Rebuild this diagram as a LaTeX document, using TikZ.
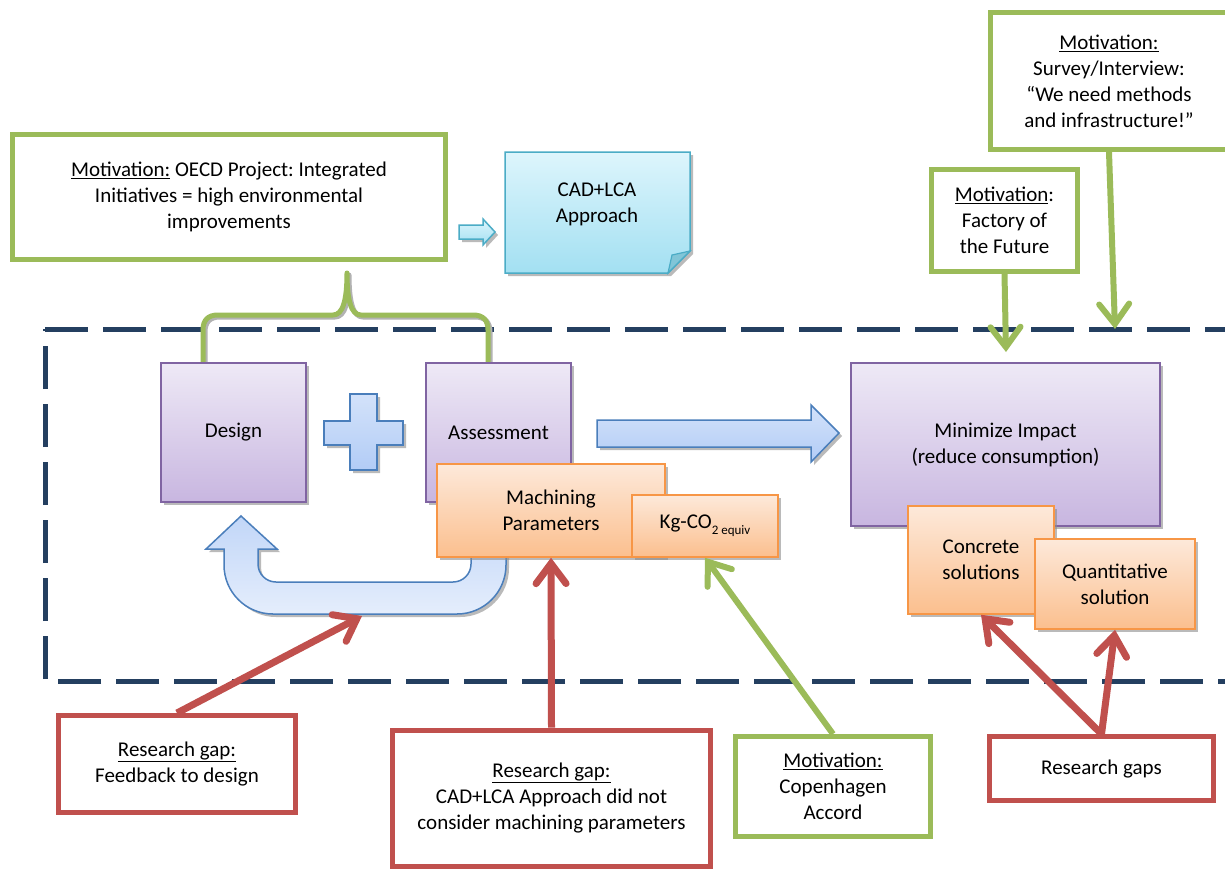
\documentclass[tikz,border=0pt]{standalone}
\usepackage{fontspec}
\setmainfont{Carlito}
\usetikzlibrary{arrows.meta,shadows}
\definecolor{grn}{HTML}{9BBB59}
\definecolor{rd}{HTML}{C0504D}
\definecolor{navy}{HTML}{243F60}
\definecolor{purp}{HTML}{8064A2}
\definecolor{purpT}{HTML}{EEE9F6}
\definecolor{purpB}{HTML}{C8B6E0}
\definecolor{orgB}{HTML}{F79646}
\definecolor{orgT}{HTML}{FDE9DA}
\definecolor{orgBot}{HTML}{FBBF8E}
\definecolor{blu}{HTML}{4A7EBB}
\definecolor{bluT}{HTML}{D3E2FA}
\definecolor{bluB}{HTML}{B2CCF6}
\definecolor{cyn}{HTML}{4BACC6}
\definecolor{cynT}{HTML}{DDF5FC}
\definecolor{cynB}{HTML}{A3E0F2}
\frenchspacing
\begin{document}
\begin{tikzpicture}[x=1pt,y=-1pt,
  font=\fontsize{21}{26}\selectfont,
  shad/.style={drop shadow={shadow xshift=3pt,shadow yshift=-3pt,fill=black!45,opacity=0.6}},
  purplebox/.style={draw=purp,line width=1.5pt,top color=purpT,bottom color=purpB,shad,inner sep=0pt,align=center},
  orangebox/.style={draw=orgB,line width=1.5pt,top color=orgT,bottom color=orgBot,shad,inner sep=0pt,align=center},
  greenbox/.style={draw=grn,line width=5pt,fill=white,inner sep=0pt,align=center},
  redbox/.style={draw=rd,line width=5pt,fill=white,inner sep=0pt,align=center},
  bluearrow/.style={draw=blu,line width=1.5pt,top color=bluT,bottom color=bluB,shad},
  openarrow/.style={line width=#1,-{Straight Barb[length=20pt,width=30pt,line cap=round]},line cap=butt},
  redarrow/.style={draw=rd,openarrow=7pt},
  greenarrow/.style={draw=grn,openarrow=6pt}
]
\useasboundingbox (0,0) rectangle (1225,868);
\fill[white] (0,0) rectangle (1225,868);
\clip (0,0) rectangle (1225,868);

% dashed frame
\draw[navy,line width=5pt,dash pattern=on 43pt off 15pt] (45,329) -- (1260,329) -- (1260,681) -- (45,681) -- cycle;

% brace (with soft shadow)
\draw[black!30,line width=5pt,line join=round,shift={(2,2)}]
  (203,362) -- (203,330) .. controls (203,320) and (208,315) .. (218,315) -- (333,315)
  .. controls (343,315) and (347,300) .. (347,273)
  .. controls (347,300) and (351,315) .. (361,315) -- (473,315)
  .. controls (483,315) and (488,320) .. (488,330) -- (488,362);
\draw[grn,line width=5pt,line join=round]
  (203,362) -- (203,330) .. controls (203,320) and (208,315) .. (218,315) -- (333,315)
  .. controls (343,315) and (347,300) .. (347,273)
  .. controls (347,300) and (351,315) .. (361,315) -- (473,315)
  .. controls (483,315) and (488,320) .. (488,330) -- (488,362);

% OECD motivation
\node[greenbox,minimum width=433pt,minimum height=125pt] (oecd) at (229,197)
  {\underline{Motivation:} OECD Project: Integrated\\Initiatives = high environmental\\improvements};

% small arrow to CAD+LCA
\path[draw=cyn,line width=1.5pt,top color=cynT,bottom color=cynB,shad]
  (459,225) -- (483,225) -- (483,219) -- (495,232) -- (483,245) -- (483,239) -- (459,239) -- cycle;

% CAD+LCA note
\path[draw=cyn,line width=1.5pt,top color=cynT,bottom color=cynB,shad]
  (505,152) -- (690,152) -- (690,251) -- (668,273) -- (505,273) -- cycle;
\path[draw=cyn,line width=1.2pt,fill=cyn!70!white] (668,273) -- (672,255) -- (690,251) -- cycle;
\node[align=center,inner sep=0pt] (cad) at (597,204) {CAD+LCA\\Approach};

% Design + Assessment
\node[purplebox,minimum width=145pt,minimum height=139pt] (design) at (233.5,432.5) {Design};
\path[bluearrow]
  (350,394) -- (377,394) -- (377,421) -- (403,421) -- (403,445) -- (377,445) -- (377,470)
  -- (350,470) -- (350,445) -- (324,445) -- (324,421) -- (350,421) -- cycle;
\node[purplebox,minimum width=145pt,minimum height=139pt] (assess) at (498.5,432.5) {Assessment};

% U-turn feedback arrow
\path[draw=blu,line width=1.5pt,top color=bluB!80!white,bottom color=bluT!60!white,shad]
  (258,549) -- (258,564) arc[start angle=180,end angle=90,radius=18]
  -- (453,582) arc[start angle=90,end angle=0,radius=18]
  -- (471,552) -- (506,552) -- (506,565) arc[start angle=0,end angle=90,radius=49]
  -- (273,614) arc[start angle=90,end angle=180,radius=49]
  -- (224,549) -- (206,549) -- (241,516) -- (277,549) -- cycle;
\coordinate (fbtip) at (362,616);

% Machining and Kg
\node[orangebox,minimum width=228pt,minimum height=93pt] (machining) at (551,510.5) {Machining\\Parameters};
\node[orangebox,minimum width=146pt,minimum height=62pt] (kg) at (705,526)
  {\raisebox{3pt}{Kg-CO\raisebox{-6pt}{\fontsize{13}{13}\selectfont 2 equiv}}};

% big arrow
\path[bluearrow]
  (597,420) -- (811,420) -- (811,405) -- (839,433) -- (811,462) -- (811,447) -- (597,447) -- cycle;

% Minimize impact
\node[purplebox,minimum width=309pt,minimum height=163pt] (minimize) at (1005.5,444.5) {Minimize Impact\\(reduce consumption)};
\node[orangebox,minimum width=146pt,minimum height=108pt] (concrete) at (981,560) {Concrete\\solutions};
\node[orangebox,minimum width=160pt,minimum height=90pt] (quant) at (1115,584) {Quantitative\\solution};

% top-right motivations
\node[greenbox,minimum width=146pt,minimum height=102pt] (factory) at (1004.5,220.5)
  {\underline{Motivation}:\\Factory of\\the Future};
\node[greenbox,minimum width=237pt,minimum height=137pt] (survey) at (1109,81)
  {\underline{Motivation:}\\Survey/Interview:\\``We need methods\\and infrastructure!''};
\coordinate (factip) at (1006,352);
\coordinate (survtip) at (1115,329);

% bottom boxes
\node[redbox,minimum width=237pt,minimum height=97pt] (fbgap) at (177,764)
  {\underline{Research gap:}\\Feedback to design};
\node[redbox,minimum width=318pt,minimum height=136pt] (mgap) at (551.5,798)
  {\underline{Research gap:}\\CAD+LCA Approach did not\\consider machining parameters};
\node[greenbox,minimum width=195pt,minimum height=100pt] (cop) at (833,786.5)
  {\underline{Motivation:}\\Copenhagen\\Accord};
\node[redbox,minimum width=224pt,minimum height=64pt] (rgaps) at (1101.5,768.5) {Research gaps};

% connectors
\draw[greenarrow] (factory.south) -- (factip);
\draw[greenarrow] (survey.south) -- (survtip);
\draw[redarrow] (fbgap.north) -- (fbtip);
\draw[redarrow] (mgap.north) -- (machining.south);
\draw[greenarrow] (cop.north) -- (kg.south);
\draw[redarrow] (rgaps.north) -- (concrete.south);
\draw[redarrow] (rgaps.north) -- (quant.south);
\end{tikzpicture}
\end{document}
